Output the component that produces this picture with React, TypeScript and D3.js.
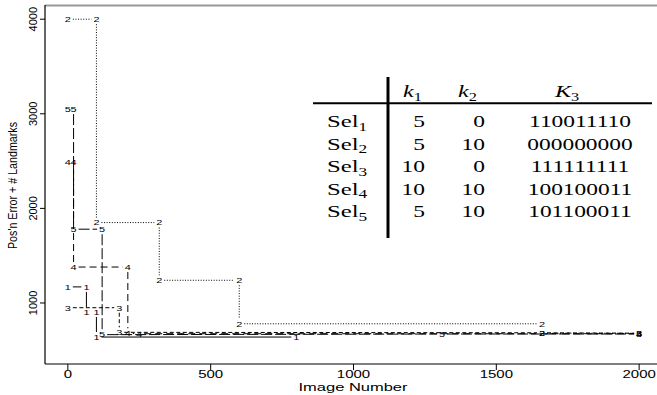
import React from "react";
import * as d3 from "d3";

// ---------- data ----------
const s1x = [0, 65, 65, 100, 100, 800];
const s1y = [1170, 1170, 905, 905, 640, 640];
const s2x = [0, 100, 100, 320, 320, 600, 600, 1660, 1660, 2000];
const s2y = [4000, 4000, 1850, 1850, 1240, 1240, 780, 780, 680, 680];
const s3x = [0, 180, 180, 1660, 2000];
const s3y = [950, 950, 690, 685, 680];
const s4x = [0, 20, 20, 210, 210, 250, 2000];
const s4y = [2490, 2490, 1380, 1380, 680, 675, 675];
const s5x = [0, 20, 20, 120, 120, 1310, 2000];
const s5y = [3050, 3050, 1780, 1780, 665, 672, 672];
const seriesLabels = ["1", "2", "3", "4", "5"];
const seriesDash = ["none", "1 1.6", "4 2.5", "7 4", "11 3"];

const xTicks = [0, 500, 1000, 1500, 2000];
const yTicks = [1000, 2000, 3000, 4000];
const xTitle = "Image Number";
const yTitle = "Pos'n Error + # Landmarks";

const selNums = ["1", "2", "3", "4", "5"];
const k1Vals = ["5", "5", "10", "10", "5"];
const k2Vals = ["0", "10", "0", "10", "10"];
const k3Vals = ["110011110", "000000000", "111111111", "100100011", "101100011"];

// ---------- layout ----------
const W = 657;
const H = 395;
const xs = d3.scaleLinear().domain([-80, 2080]).range([45, 662]);
const ys = d3.scaleLinear().domain([355, 4150]).range([364, 5]);

const sans = "'Liberation Sans', Arial, Helvetica, sans-serif";
const serif = "'Liberation Serif', 'Times New Roman', serif";

function gapSegments(px: number[], py: number[], gap: number) {
  const out: [number, number, number, number][] = [];
  for (let i = 0; i < px.length - 1; i++) {
    const x0 = xs(px[i]), y0 = ys(py[i]);
    const x1 = xs(px[i + 1]), y1 = ys(py[i + 1]);
    const dx = x1 - x0, dy = y1 - y0;
    const d = Math.hypot(dx, dy);
    if (d <= 2 * gap) continue;
    const ux = dx / d, uy = dy / d;
    out.push([x0 + ux * gap, y0 + uy * gap, x1 - ux * gap, y1 - uy * gap]);
  }
  return out;
}

const allSeries = [
  { x: s1x, y: s1y },
  { x: s2x, y: s2y },
  { x: s3x, y: s3y },
  { x: s4x, y: s4y },
  { x: s5x, y: s5y },
];

function STxt(props: {
  x: number; y: number; sx?: number; anchor?: string; size: number;
  family?: string; style?: string; children: React.ReactNode;
}) {
  const { x, y, sx = 1, anchor = "start", size, family = serif, style = "normal", children } = props;
  return (
    <text
      transform={`translate(${x},${y}) scale(${sx},1)`}
      textAnchor={anchor}
      fontSize={size}
      fontFamily={family}
      fontStyle={style}
      fill="#000"
    >
      {children}
    </text>
  );
}

export default function App() {
  const rowBase = [127, 149.5, 172, 194.5, 217];
  const tsx = 1.42;
  return (
    <svg
      width={W}
      height={H}
      viewBox={`0 0 ${W} ${H}`}
      style={{ position: "absolute", left: 0, top: 0, background: "#fff" }}
    >
      <rect x={0} y={0} width={W} height={H} fill="#fff" />
      {/* frame */}
      <line x1={45} y1={5.5} x2={W} y2={5.5} stroke="#999" strokeWidth={2} />
      <line x1={45} y1={5} x2={45} y2={364} stroke="#000" strokeWidth={1.2} />
      <line x1={45} y1={364} x2={W} y2={364} stroke="#000" strokeWidth={1.2} />

      {/* x ticks */}
      {xTicks.map((t) => (
        <g key={"xt" + t}>
          <line x1={xs(t)} x2={xs(t)} y1={364} y2={370} stroke="#000" strokeWidth={1} />
          <STxt x={xs(t)} y={377.5} sx={1.5} anchor="middle" size={10} family={sans}>
            {String(t)}
          </STxt>
        </g>
      ))}
      {/* y ticks */}
      {yTicks.map((t) => (
        <g key={"yt" + t}>
          <line x1={40} x2={45} y1={ys(t)} y2={ys(t)} stroke="#000" strokeWidth={1} />
          <text
            transform={`translate(37,${ys(t)}) rotate(-90)`}
            textAnchor="middle"
            fontSize={11}
            fontFamily={sans}
          >
            {String(t)}
          </text>
        </g>
      ))}
      <text
        x={353}
        y={391}
        textAnchor="middle"
        fontSize={11.5}
        fontFamily={sans}
        textLength={109}
        lengthAdjust="spacingAndGlyphs"
      >
        {xTitle}
      </text>
      <text
        transform={`translate(17,185.5) rotate(-90)`}
        textAnchor="middle"
        fontSize={12.5}
        fontFamily={sans}
        textLength={127}
        lengthAdjust="spacingAndGlyphs"
      >
        {yTitle}
      </text>

      {/* series */}
      {allSeries.map((s, si) => (
        <g key={"s" + si}>
          {gapSegments(s.x, s.y, 5).map((g, i) => (
            <line
              key={i}
              x1={g[0]}
              y1={g[1]}
              x2={g[2]}
              y2={g[3]}
              stroke="#000"
              strokeWidth={1}
              strokeDasharray={seriesDash[si]}
            />
          ))}
          {s.x.map((xv, i) => (
            <STxt
              key={"p" + i}
              x={xs(xv)}
              y={ys(s.y[i]) + 2.8}
              sx={1.4}
              anchor="middle"
              size={7.8}
              family={sans}
            >
              {seriesLabels[si]}
            </STxt>
          ))}
        </g>
      ))}

      {/* table */}
      <line x1={388} x2={388} y1={77} y2={238} stroke="#000" strokeWidth={3} />
      <line x1={313} x2={652} y1={103.3} y2={103.3} stroke="#000" strokeWidth={2} />
      <STxt x={403} y={97} sx={tsx} size={17} style="italic">
        k<tspan fontSize={11.5} fontStyle="normal" dy={3.5}>1</tspan>
      </STxt>
      <STxt x={458} y={97} sx={tsx} size={17} style="italic">
        k<tspan fontSize={11.5} fontStyle="normal" dy={3.5}>2</tspan>
      </STxt>
      <STxt x={555} y={97} sx={tsx} size={17} style="italic">
        K<tspan fontSize={11.5} fontStyle="normal" dy={3.5}>3</tspan>
      </STxt>
      {selNums.map((n, i) => (
        <g key={"row" + i}>
          <STxt x={327} y={rowBase[i]} sx={1.5} size={16.5}>
            Sel<tspan fontSize={11.5} dy={3.5}>{n}</tspan>
          </STxt>
          <STxt x={425} y={rowBase[i]} sx={tsx} anchor="end" size={16.5}>
            {k1Vals[i]}
          </STxt>
          <STxt x={485} y={rowBase[i]} sx={tsx} anchor="end" size={16.5}>
            {k2Vals[i]}
          </STxt>
          <STxt x={580} y={rowBase[i]} sx={tsx} anchor="middle" size={16.5}>
            {k3Vals[i]}
          </STxt>
        </g>
      ))}
    </svg>
  );
}
